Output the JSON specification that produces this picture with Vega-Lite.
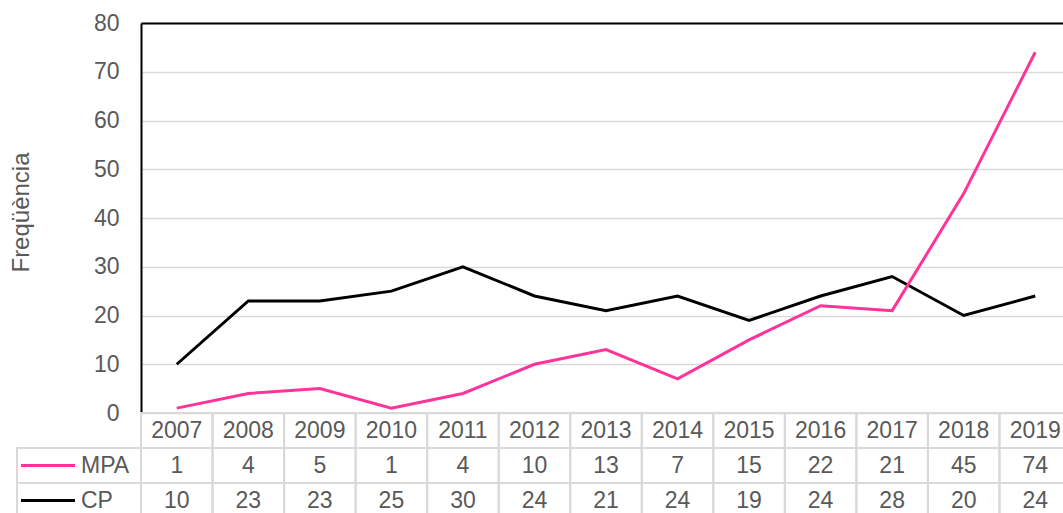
{
  "$schema": "https://vega.github.io/schema/vega-lite/v6.json",
  "padding": {"left": 9, "top": 12, "right": 0, "bottom": 0},
  "config": {"font": "Liberation Sans", "view": {"stroke": null}},
  "datasets": {
    "d": [
      {"year": "2007", "MPA": 1, "CP": 10},
      {"year": "2008", "MPA": 4, "CP": 23},
      {"year": "2009", "MPA": 5, "CP": 23},
      {"year": "2010", "MPA": 1, "CP": 25},
      {"year": "2011", "MPA": 4, "CP": 30},
      {"year": "2012", "MPA": 10, "CP": 24},
      {"year": "2013", "MPA": 13, "CP": 21},
      {"year": "2014", "MPA": 7, "CP": 24},
      {"year": "2015", "MPA": 15, "CP": 19},
      {"year": "2016", "MPA": 22, "CP": 24},
      {"year": "2017", "MPA": 21, "CP": 28},
      {"year": "2018", "MPA": 45, "CP": 20},
      {"year": "2019", "MPA": 74, "CP": 24}
    ],
    "s": [{"series": "MPA"}, {"series": "CP"}]
  },
  "columns": 2,
  "spacing": 0,
  "bounds": "flush",
  "concat": [
    {
      "width": 124, "height": 390,
      "data": {"values": [{}]},
      "mark": {"type": "text", "text": ""}
    },
    {
      "width": 930, "height": 390,
      "data": {"name": "d"},
      "transform": [{"fold": ["CP", "MPA"], "as": ["series", "value"]}],
      "mark": {"type": "line", "strokeWidth": 3},
      "encoding": {
        "x": {"field": "year", "type": "ordinal", "scale": {"type": "point", "padding": 0.5},
          "axis": {"orient": "top", "labels": false, "ticks": false, "title": null, "domainColor": "#000000", "domainWidth": 2}},
        "y": {"field": "value", "type": "quantitative", "scale": {"domain": [0, 80]},
          "axis": {"values": [0, 10, 20, 30, 40, 50, 60, 70, 80], "title": "Freqüència", "grid": true, "gridColor": "#d9d9d9", "gridWidth": 1.5, "ticks": false, "domainColor": "#000000", "domainWidth": 2, "labelFontSize": 23, "labelColor": "#595959", "labelPadding": 22, "titleFontSize": 24, "titleColor": "#595959", "titleFontWeight": "normal", "titlePadding": 60, "titleY": 189}},
        "color": {"field": "series", "type": "nominal", "scale": {"domain": ["MPA", "CP"], "range": ["#ff3399", "#000000"]}, "legend": null},
        "order": {"field": "series", "sort": "ascending"}
      }
    },
    {
      "width": 124, "height": 105,
      "data": {"name": "s"},
      "resolve": {"scale": {"x": "independent"}},
      "layer": [
        {
          "mark": {"type": "rect", "fillOpacity": 0, "stroke": "#d9d9d9", "strokeWidth": 2},
          "encoding": {
            "x": {"datum": "all", "type": "nominal", "scale": {"domain": ["all"], "paddingInner": 0, "paddingOuter": 0}, "axis": null},
            "y": {"field": "series", "type": "nominal", "scale": {"domain": ["Ano", "MPA", "CP"], "paddingInner": 0, "paddingOuter": 0}, "axis": null}
          }
        },
        {
          "mark": {"type": "point", "shape": "stroke", "size": 2916, "strokeWidth": 3, "filled": false, "opacity": 1},
          "encoding": {
            "x": {"datum": "swatch", "type": "nominal", "scale": {"domain": ["swatch", "label"], "paddingInner": 0, "paddingOuter": 0}, "axis": null},
            "y": {"field": "series", "type": "nominal"},
            "color": {"field": "series", "type": "nominal", "scale": {"domain": ["MPA", "CP"], "range": ["#ff3399", "#000000"]}, "legend": null}
          }
        },
        {
          "mark": {"type": "text", "align": "left", "baseline": "middle", "fontSize": 23, "color": "#595959", "dx": -29},
          "encoding": {
            "x": {"datum": "label", "type": "nominal", "scale": {"domain": ["swatch", "label"], "paddingInner": 0, "paddingOuter": 0}, "axis": null},
            "y": {"field": "series", "type": "nominal"},
            "text": {"field": "series"}
          }
        }
      ]
    },
    {
      "width": 930, "height": 105,
      "data": {"name": "d"},
      "encoding": {
        "x": {"field": "year", "type": "ordinal", "scale": {"type": "band", "paddingInner": 0, "paddingOuter": 0}, "axis": null}
      },
      "layer": [
        {
          "mark": {"type": "rect", "fillOpacity": 0, "stroke": "#d9d9d9", "strokeWidth": 2},
          "encoding": {
            "y": {"datum": "Ano", "type": "nominal", "scale": {"domain": ["Ano", "MPA", "CP"], "paddingInner": 0, "paddingOuter": 0}, "axis": null}
          }
        },
        {
          "mark": {"type": "text", "baseline": "middle", "fontSize": 23, "color": "#595959"},
          "encoding": {
            "y": {"datum": "Ano", "type": "nominal"},
            "text": {"field": "year"}
          }
        },
        {
          "transform": [{"fold": ["MPA", "CP"], "as": ["series", "value"]}],
          "layer": [
            {
              "mark": {"type": "rect", "fillOpacity": 0, "stroke": "#d9d9d9", "strokeWidth": 2},
              "encoding": {"y": {"field": "series", "type": "nominal"}}
            },
            {
              "mark": {"type": "text", "baseline": "middle", "fontSize": 23, "color": "#595959"},
              "encoding": {"y": {"field": "series", "type": "nominal"}, "text": {"field": "value", "type": "quantitative"}}
            }
          ]
        }
      ]
    }
  ]
}
